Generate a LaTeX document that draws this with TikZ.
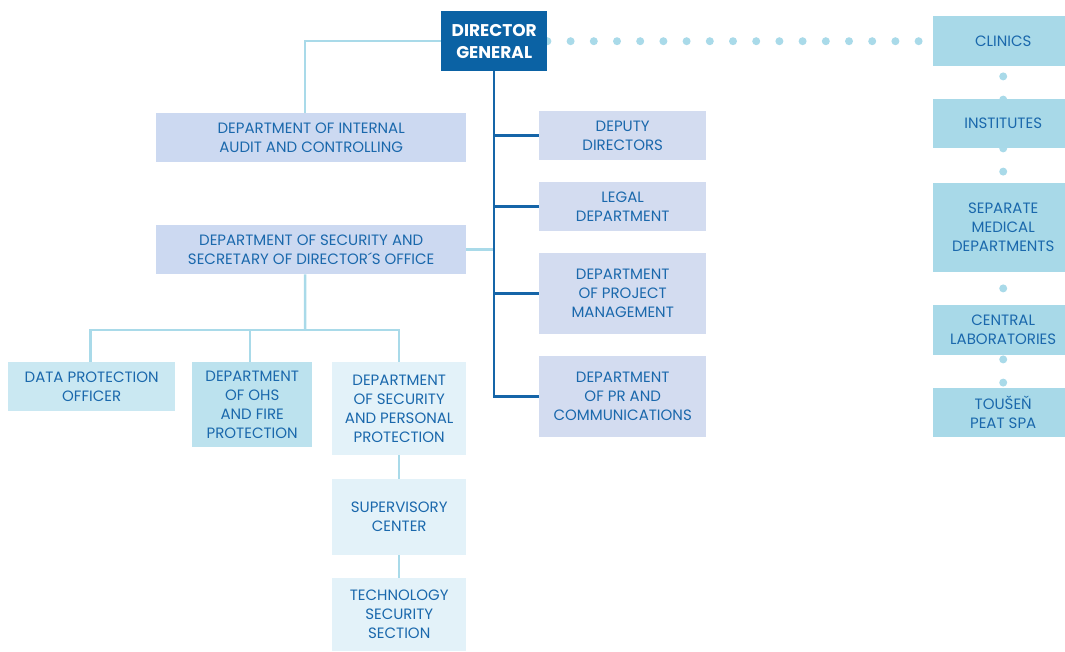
\documentclass[tikz,border=0pt]{standalone}
\usepackage{fontspec}
\setmainfont{Poppins}
\usetikzlibrary{backgrounds}
\definecolor{dgblue}{HTML}{0B62A4}
\definecolor{txtblue}{HTML}{1A68AC}
\definecolor{trunkblue}{HTML}{1565A8}
\definecolor{liteblue}{HTML}{A9DAE9}
\definecolor{lavfill}{HTML}{CCD9F1}
\definecolor{rightfill}{HTML}{D3DCF0}
\definecolor{cyanfill}{HTML}{CAE8F2}
\definecolor{ohsfill}{HTML}{BCE2EE}
\definecolor{palefill}{HTML}{E3F2F9}
\definecolor{unitfill}{HTML}{A8D9E8}
\tikzset{
  unit/.style={anchor=north west, inner sep=0pt, align=center, text=txtblue,
    font=\fontsize{15}{19}\selectfont},
  lite/.style={draw=liteblue, line width=2.5},
  trunk/.style={draw=trunkblue, line width=2.5},
  dots/.style={draw=liteblue, line width=8, line cap=round,
    dash pattern=on 0pt off 23.2pt},
}
\begin{document}
\begin{tikzpicture}[x=1pt,y=-1pt]
\useasboundingbox (0,0) rectangle (1065,651);
% director
\node[unit, fill=dgblue, text=white, minimum width=106, minimum height=60,
  font=\fontsize{17}{22}\selectfont\bfseries] (dg) at (441,11) {DIRECTOR\\GENERAL};
% staff units on the left
\node[unit, fill=lavfill, minimum width=310, minimum height=49] (audit) at (156,113)
  {DEPARTMENT OF INTERNAL\\AUDIT AND CONTROLLING};
\node[unit, fill=lavfill, minimum width=310, minimum height=49] (sec) at (156,225)
  {DEPARTMENT OF SECURITY AND\\SECRETARY OF DIRECTOR´S OFFICE};
\node[unit, fill=cyanfill, minimum width=167, minimum height=49] (dpo) at (8,362)
  {DATA PROTECTION\\OFFICER};
\node[unit, fill=ohsfill, minimum width=120, minimum height=85] (ohs) at (192,362)
  {DEPARTMENT\\OF OHS\\AND FIRE\\PROTECTION};
\node[unit, fill=palefill, minimum width=134, minimum height=93] (pers) at (332,362)
  {DEPARTMENT\\OF SECURITY\\AND PERSONAL\\PROTECTION};
\node[unit, fill=palefill, minimum width=134, minimum height=76] (sup) at (332,479)
  {SUPERVISORY\\CENTER};
\node[unit, fill=palefill, minimum width=134, minimum height=73] (tech) at (332,578)
  {TECHNOLOGY\\SECURITY\\SECTION};
% line units
\node[unit, fill=rightfill, minimum width=167, minimum height=49] (dep) at (539,111)
  {DEPUTY\\DIRECTORS};
\node[unit, fill=rightfill, minimum width=167, minimum height=49] (legal) at (539,182)
  {LEGAL\\DEPARTMENT};
\node[unit, fill=rightfill, minimum width=167, minimum height=81] (proj) at (539,253)
  {DEPARTMENT\\OF PROJECT\\MANAGEMENT};
\node[unit, fill=rightfill, minimum width=167, minimum height=81] (pr) at (539,356)
  {DEPARTMENT\\OF PR AND\\COMMUNICATIONS};
% medical units (cut off by the right edge)
\node[unit, fill=unitfill, minimum width=140, minimum height=50] (clin) at (933,16) {CLINICS};
\node[unit, fill=unitfill, minimum width=140, minimum height=49] (inst) at (933,99) {INSTITUTES};
\node[unit, fill=unitfill, minimum width=140, minimum height=89] (sepm) at (933,183)
  {SEPARATE\\MEDICAL\\DEPARTMENTS};
\node[unit, fill=unitfill, minimum width=140, minimum height=50] (cent) at (933,305)
  {CENTRAL\\LABORATORIES};
\node[unit, fill=unitfill, minimum width=140, minimum height=49] (tou) at (933,388)
  {TOUŠEŇ\\PEAT SPA};
\begin{scope}[on background layer]
  \coordinate (split) at (305,330);
  \draw[lite] (dg.west) -| ([xshift=-6]audit.north);
  \draw[lite] (sec.east) -- (dg.south |- sec.east);
  \draw[lite] ([xshift=-6]sec.south) -- (split);
  \draw[lite] ([xshift=-1]dpo.north) |- (split) -| (pers.north);
  \draw[lite] ([xshift=-2]ohs.north) -- ([xshift=-2]ohs.north |- split);
  \draw[lite] (pers.south) -- (sup.north);
  \draw[lite] (sup.south) -- (tech.north);
  \draw[trunk] (dg.south) |- (pr.west);
  \foreach \n in {dep,legal,proj}
    \draw[trunk] (dg.south |- \n.west) -- (\n.west);
  % dotted links
  \draw[dots] (dg.east) -- (clin.west);
  \draw[dots] ([yshift=-10]clin.south) -- ([yshift=-1]inst.north);
  \draw[dots] (inst.south) -- ([yshift=11]sepm.north);
  \draw[dots] ([yshift=-16]sepm.south) -- ([yshift=10]cent.north);
  \draw[dots] ([yshift=-4]cent.south) -- ([yshift=5]tou.north);
\end{scope}
\end{tikzpicture}
\end{document}
